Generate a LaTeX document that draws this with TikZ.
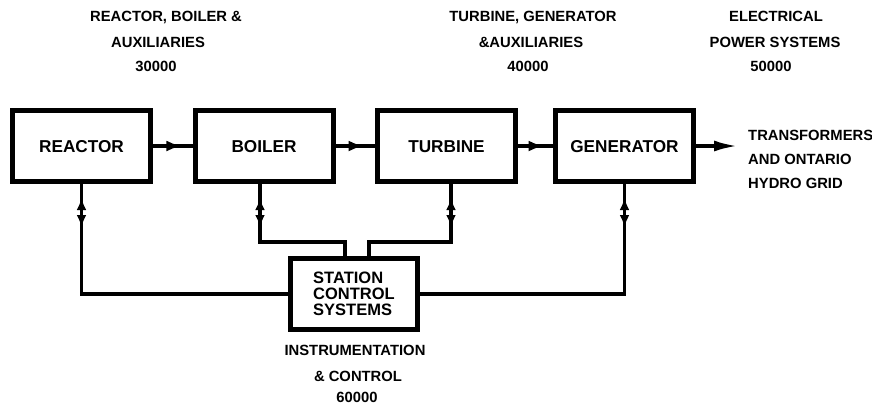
\documentclass[tikz,border=0pt]{standalone}
\usepackage{fontspec}
\setmainfont{Liberation Sans}
\usetikzlibrary{arrows.meta,decorations.markings}
\begin{document}
\begin{tikzpicture}[x=1pt,y=-1pt,
  blk/.style={draw,line width=5pt,minimum width=138pt,minimum height=71pt,inner sep=0pt,
    font=\fontsize{17.2}{17.2}\selectfont\bfseries,text height=12.3pt,text depth=0pt},
  lbl/.style={font=\fontsize{14.8}{14.8}\selectfont\bfseries,inner sep=0pt,anchor=base},
  conn/.style={line width=3.5pt,line join=miter},
  tipA/.tip={Latex[length=15pt,width=11pt]},
  tipV/.tip={Latex[length=12pt,width=10pt]},
  hmid/.style={conn,postaction={decorate},decoration={markings,
    mark=at position #1 with {\arrow{tipA}}}},
  vdbl/.style={conn,postaction={decorate},decoration={markings,
    mark=at position 14pt with {\arrowreversed{tipV}},
    mark=at position 43pt with {\arrow{tipV}}}}]
\fill[white] (0,0) rectangle (872,408);
\useasboundingbox (0,0) rectangle (872,408);

% boxes
\node[blk] (reactor) at (81.5,146) {REACTOR};
\node[blk] (boiler) at (264,146) {BOILER};
\node[blk] (turbine) at (446.5,146) {TURBINE};
\node[blk] (generator) at (624.5,146) {GENERATOR};
\node[blk,minimum width=127pt,text height=,text depth=,align=left,
  font=\fontsize{16.5}{16}\selectfont\bfseries] (ctrl) at (354,294) {STATION\\CONTROL\\SYSTEMS};

% top labels
\node[lbl] (l1a) at (166,21.2) {REACTOR, BOILER \&};
\node[lbl] (l1b) at (158,47.7) {AUXILIARIES};
\node[lbl] (l1c) at (156,71.2) {30000};
\node[lbl] (l2a) at (533,21.2) {TURBINE, GENERATOR};
\node[lbl] (l2b) at (531,47.7) {\&AUXILIARIES};
\node[lbl] (l2c) at (528,71.2) {40000};
\node[lbl] (l3a) at (776,21.2) {ELECTRICAL};
\node[lbl] (l3b) at (775,47.7) {POWER SYSTEMS};
\node[lbl] (l3c) at (771,71.2) {50000};

% right labels
\node[lbl,anchor=base west] (r1) at (748,140.2) {TRANSFORMERS};
\node[lbl,anchor=base west] (r2) at (748,164.2) {AND ONTARIO};
\node[lbl,anchor=base west] (r3) at (748,188.2) {HYDRO GRID};

% bottom labels
\node[lbl] (b1) at (355,355.2) {INSTRUMENTATION};
\node[lbl] (b2) at (358,381.2) {\& CONTROL};
\node[lbl] (b3) at (357,402.2) {60000};

% horizontal flow
\draw[hmid=0.72] (reactor.east) -- (boiler.west);
\draw[hmid=0.71] (boiler.east) -- (turbine.west);
\draw[hmid=0.73] (turbine.east) -- (generator.west);
\coordinate (grid) at (738,146);
\draw[conn,-{Latex[length=24pt,width=11pt]}] (generator.east) -- (grid);

% control connections
\coordinate (bj) at (0,242);
\coordinate (cb) at ([xshift=-9pt]ctrl.north);
\coordinate (ct) at ([xshift=15pt]ctrl.north);
\coordinate (bs) at ([xshift=-4pt]boiler.south);
\coordinate (ts) at ([xshift=4.5pt]turbine.south);
\draw[vdbl] (reactor.south) |- (ctrl.west);
\draw[vdbl] (generator.south) |- (ctrl.east);
\draw[vdbl] (bs) -- (bs |- bj) -| (cb);
\draw[vdbl] (ts) -- (ts |- bj) -| (ct);
\end{tikzpicture}
\end{document}
